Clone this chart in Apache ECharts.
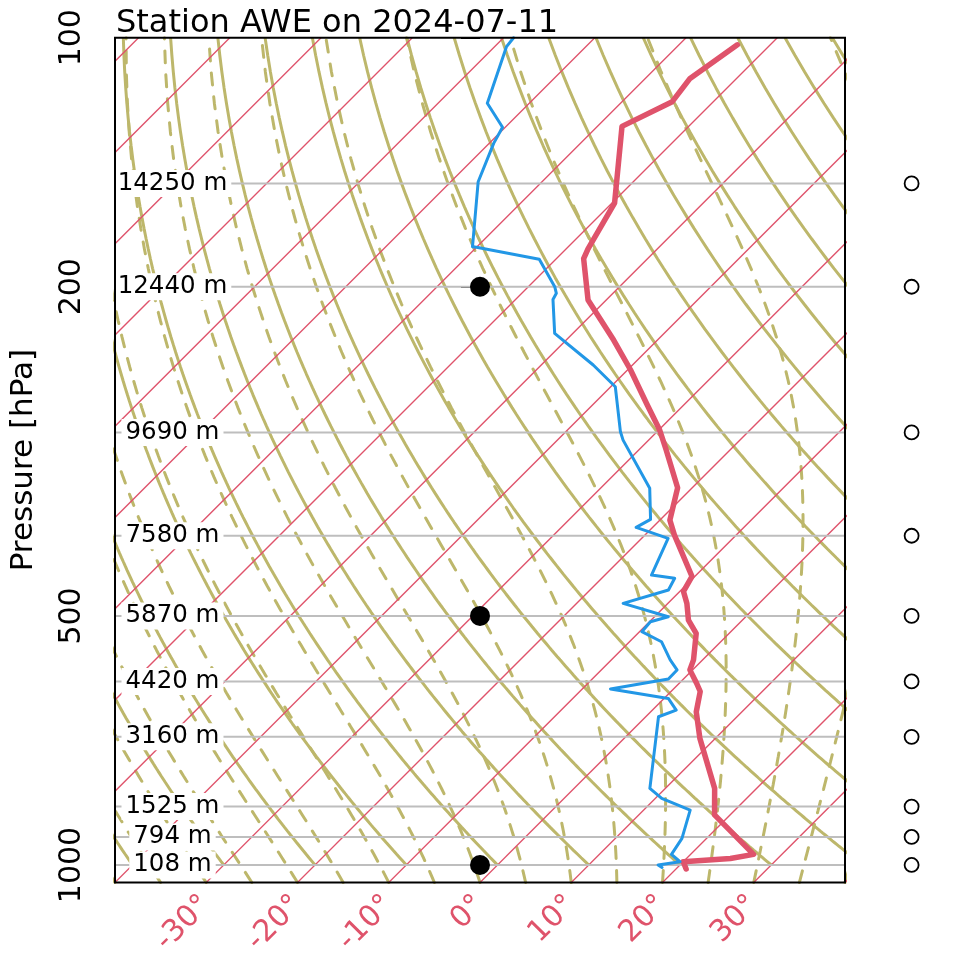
<!DOCTYPE html>
<html><head><meta charset="utf-8">
<script src="https://cdn.jsdelivr.net/npm/echarts@6/dist/echarts.min.js"></script>
<style>html,body{margin:0;padding:0;background:#fff}#main{width:960px;height:960px}</style>
</head><body><div id="main"></div>
<script>
// ---------------- data ----------------
const chartTitle = 'Station AWE on 2024-07-11';
const pressureTicks = [100, 200, 500, 1000];
const tempTickLabels = [-30, -20, -10, 0, 10, 20, 30];
const levelPressures = [150, 200, 300, 400, 500, 600, 700, 850, 925, 1000];
const levelHeights = [14250, 12440, 9690, 7580, 5870, 4420, 3160, 1525, 794, 108];
const tempPres = [102, 112, 119.5, 128, 158.5, 180, 185, 207.5, 232, 252, 277, 298, 315, 350, 383, 399, 448, 467, 483, 506, 525, 565, 581, 603, 617, 653, 703, 808, 870, 971, 982, 991, 1011];
const tempVals = [-63.6, -65.1, -64.5, -67.3, -59.7, -57.6, -57.0, -52.0, -44.8, -39.7, -34.2, -29.9, -27.0, -21.6, -18.9, -16.8, -10.3, -9.6, -7.9, -5.9, -3.6, -1.0, -0.3, 1.9, 3.2, 5.0, 8.3, 15.4, 18.3, 26.9, 24.8, 20.0, 21.1];
const dewPres = [100, 102.5, 120, 128.3, 134.2, 149.3, 178.9, 179.2, 185.3, 200, 203.7, 207.2, 227.7, 248.7, 264.2, 299.5, 306.5, 350.5, 382.2, 390.8, 402.9, 446.2, 450.3, 465.2, 482.8, 501.1, 508.1, 522.4, 537.2, 565.1, 581.1, 596, 612.8, 629, 649.7, 662, 808, 830.9, 858.4, 928.7, 970.9, 991.1, 1000, 1007];
const dewVals = [-88.9, -88.7, -84.6, -80.3, -79.5, -77.0, -70.5, -70.0, -61.8, -57.1, -56.2, -55.9, -52.0, -44.3, -39.5, -34.0, -32.8, -24.6, -21.1, -21.8, -17.1, -14.9, -12.0, -11.4, -14.9, -8.5, -9.9, -9.75, -6.5, -3.55, -1.7, -1.65, -6.9, 0.46, 2.6, 1.4, 8.3, 10.7, 15.1, 17.3, 17.9, 19.65, 17.6, 18.3];
const dotPressures = [200, 500, 1000];
const windPressures = [150, 200, 300, 400, 500, 600, 700, 850, 925, 1000];
const isothermTemps = [-130, -120, -110, -100, -90, -80, -70, -60, -50, -40, -30, -20, -10, 0, 10, 20, 30, 40];
const dryAdiabatThetas = [-40, -30, -20, -10, 0, 10, 20, 30, 40, 50, 60, 70, 80, 90, 100, 110, 120, 130, 140, 150, 160, 170];
const moistAdiabatStarts = [-40, -35, -30, -25, -20, -15, -10, -5, 0, 5, 10, 15, 20, 25, 30, 35, 40, 45];

// ---------------- layout ----------------
const W = 960, H = 960;
const G = {left: 115, right: 115, top: 37.7, bottom: 77.5};
const P_BOT = 1050, P_TOP = 100, T_MIN = -40, T_MAX = 40;
const plotW = W - G.left - G.right, plotH = H - G.top - G.bottom;
const K = (plotH / (Math.log10(P_BOT) - Math.log10(P_TOP))) / (plotW / (T_MAX - T_MIN)); // 45 deg skew
const lp = p => Math.log10(p);
const skewX = (T, p) => T + K * (Math.log10(P_BOT) - Math.log10(p));
const LABEL_X = -33.7, WIND_X = 47.3;
const FONT = 'DejaVu Sans';
const OLIVE = '#BDB76B', RED = '#DF536B', BLUE = '#2297E6', GRAY = '#BEBEBE';

// ---------------- reference lines ----------------
const series = [];
dryAdiabatThetas.forEach(th => {
  const pts = [];
  for (let p = 1000; p >= 100; p -= 5) {
    const T = (th + 273.15) * Math.pow(p / 1000, 0.2857) - 273.15;
    pts.push([skewX(T, p), lp(p)]);
  }
  series.push({type: 'line', data: pts, showSymbol: false, silent: true, z: 1,
    lineStyle: {color: OLIVE, width: 3}});
});
function dTdp(T, p) {
  const Rd = 287.04, cp = 1005.7, Lv = 2.501e6, eps = 0.622;
  const es = 6.112 * Math.exp(17.67 * (T - 273.15) / (T - 29.65));
  const rs = eps * es / (p - es);
  return (Rd * T + Lv * rs) / (cp + Lv * Lv * rs * eps / (Rd * T * T)) / p;
}
moistAdiabatStarts.forEach(t0 => {
  let T = t0 + 273.15, p = P_BOT;
  const pts = [[skewX(t0, p), lp(p)]];
  const h = -10;
  while (p > 100.001) {
    T += h * dTdp(T, p); p += h;
    pts.push([skewX(T - 273.15, p), lp(p)]);
  }
  series.push({type: 'line', data: pts, showSymbol: false, silent: true, z: 1,
    lineStyle: {color: OLIVE, width: 3, type: [12, 12], cap: 'round'}});
});
isothermTemps.forEach(t => {
  series.push({type: 'line', data: [[skewX(t, P_BOT), lp(P_BOT)], [skewX(t, P_TOP), lp(P_TOP)]],
    showSymbol: false, silent: true, z: 2, lineStyle: {color: RED, width: 1.3}});
});
levelPressures.forEach(p => {
  series.push({type: 'line', data: [[T_MIN, lp(p)], [T_MAX, lp(p)]], showSymbol: false, silent: true, z: 3,
    lineStyle: {color: GRAY, width: 2}});
});
// ---------------- profiles ----------------
series.push({type: 'line', data: tempPres.map((p, i) => [skewX(tempVals[i], p), lp(p)]),
  showSymbol: false, z: 5, lineStyle: {color: RED, width: 5.5, cap: 'round', join: 'round'}});
series.push({type: 'line', data: dewPres.map((p, i) => [skewX(dewVals[i], p), lp(p)]),
  showSymbol: false, z: 5, lineStyle: {color: BLUE, width: 3, cap: 'round', join: 'round'}});
series.push({type: 'scatter', data: dotPressures.map(p => [0, lp(p)]), symbolSize: 20, z: 6,
  itemStyle: {color: '#000', opacity: 1}});
series.push({type: 'scatter', clip: false, data: windPressures.map(p => [WIND_X, lp(p)]), symbol: 'circle',
  symbolSize: 14, z: 6, itemStyle: {color: '#fff', borderColor: '#000', borderWidth: 1.8, opacity: 1}});
series.push({type: 'scatter', data: levelPressures.map((p, i) => ({value: [LABEL_X, lp(p)], name: levelHeights[i] + ' m'})),
  symbolSize: 1, z: 7, itemStyle: {color: 'rgba(0,0,0,0)', opacity: 1},
  label: {show: true, position: 'inside', formatter: d => d.name, fontFamily: FONT, fontSize: 24.5, color: '#000',
    opacity: 1, backgroundColor: '#fff', padding: [1, 4]}});

const chart = echarts.init(document.getElementById('main'), null, {renderer: 'canvas'});
chart.setOption({
  animation: false,
  backgroundColor: '#fff',
  title: {text: chartTitle, left: 111, top: 3, textStyle: {fontFamily: FONT, fontSize: 32, fontWeight: 'normal', color: '#000'}},
  grid: {left: G.left, right: G.right, top: G.top, bottom: G.bottom, show: false},
  graphic: [{type: 'rect', z: 100, silent: true,
    shape: {x: G.left, y: G.top, width: plotW, height: plotH},
    style: {fill: 'none', stroke: '#000', lineWidth: 2}}],
  xAxis: {type: 'value', min: T_MIN, max: T_MAX, interval: 10,
    axisLine: {show: false}, axisTick: {show: false}, splitLine: {show: false},
    axisLabel: {customValues: tempTickLabels, rotate: 45, margin: 18, color: RED, fontFamily: FONT, fontSize: 30,
      formatter: v => v + '°'}},
  yAxis: {type: 'value', inverse: true, min: lp(P_TOP), max: lp(P_BOT),
    name: 'Pressure [hPa]', nameLocation: 'middle', nameRotate: 90, nameGap: 76,
    nameTextStyle: {fontFamily: FONT, fontSize: 31, color: '#000'},
    axisLine: {show: false}, splitLine: {show: false},
    axisTick: {show: true, customValues: pressureTicks.map(lp), length: 19, lineStyle: {color: '#000', width: 2}},
    axisLabel: {customValues: pressureTicks.map(lp), rotate: 90, margin: 28, fontFamily: FONT, fontSize: 30, color: '#000',
      formatter: v => String(Math.round(Math.pow(10, v)))}},
  series: series
});
</script></body></html>
